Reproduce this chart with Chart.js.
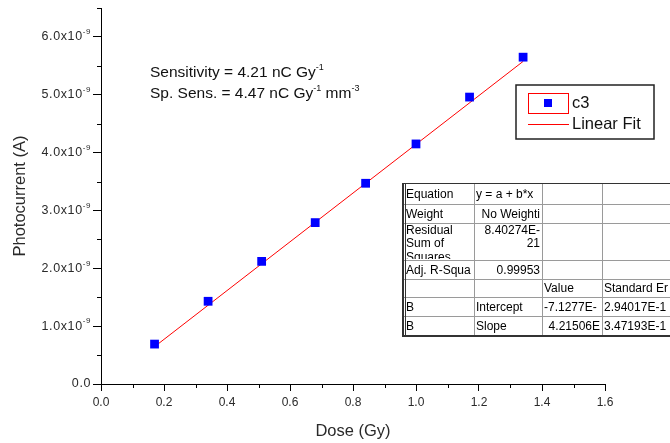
<!DOCTYPE html>
<html>
<head>
<meta charset="utf-8">
<script src="https://cdn.jsdelivr.net/npm/chart.js@4.4.1/dist/chart.umd.min.js"></script>
<style>
  html, body { margin: 0; padding: 0; background: #fff; }
</style>
</head>
<body>
<canvas id="grafico-dosis" width="670" height="443"></canvas>
<script>
// Dosis (Gy) y fotocorriente medida (en unidades de 1e-9 A)
const dosis = [0.17, 0.34, 0.51, 0.68, 0.84, 1.00, 1.17, 1.34];
const fotocorriente = [0.69, 1.43, 2.12, 2.79, 3.47, 4.15, 4.96, 5.65];

// Parámetros del ajuste lineal y = a + b*x (a en 1e-9 A, b en 1e-9 A/Gy)
const intercepto = -0.071277;
const pendiente = 4.21506;

// Marcas de los ejes
const ticksX = [0, 0.2, 0.4, 0.6, 0.8, 1.0, 1.2, 1.4, 1.6];
const ticksY = [0, 1, 2, 3, 4, 5, 6];
const etiquetasY = ['0.0', '1.0x10', '2.0x10', '3.0x10', '4.0x10', '5.0x10', '6.0x10'];
const exponenteY = '-9';

const nombreSerie = 'c3';
const nombreAjuste = 'Linear Fit';

// Tabla de resultados del ajuste (filas x columnas)
const tablaFilas = [
  ['Equation', 'y = a + b*x', '', ''],
  ['Weight', 'No Weighti', '', ''],
  ['Residual\nSum of\nSquares', '8.40274E-\n21', '', ''],
  ['Adj. R-Squa', '0.99953', '', ''],
  ['', '', 'Value', 'Standard Er'],
  ['B', 'Intercept', '-7.1277E-', '2.94017E-1'],
  ['B', 'Slope', '4.21506E', '3.47193E-1']
];
// alineación de cada celda: l = izquierda, r = derecha
const tablaAlineacion = [
  ['l', 'l', 'l', 'l'],
  ['l', 'r', 'l', 'l'],
  ['l', 'r', 'l', 'l'],
  ['l', 'r', 'l', 'l'],
  ['l', 'l', 'l', 'l'],
  ['l', 'l', 'l', 'l'],
  ['l', 'l', 'r', 'l']
];
const tablaColumnas = [402, 474, 542, 602, 690];
const tablaRenglones = [183, 204, 223, 260, 279, 297, 316, 336];

const FUENTE = '"Liberation Sans", Arial, sans-serif';
const GRIS_TEXTO = '#2a2a2a';

// Texto con superíndices: partes = [[texto, esSuperindice], ...]
function dibujarConExponentes(ctx, partes, x, y, tam, tamExp, subida) {
  let cx = x;
  for (const [txt, sup] of partes) {
    ctx.font = (sup ? tamExp : tam) + 'px ' + FUENTE;
    ctx.fillText(txt, cx, sup ? y - subida : y);
    cx += ctx.measureText(txt).width;
  }
  return cx;
}

function anchoConExponentes(ctx, partes, tam, tamExp) {
  let w = 0;
  for (const [txt, sup] of partes) {
    ctx.font = (sup ? tamExp : tam) + 'px ' + FUENTE;
    w += ctx.measureText(txt).width;
  }
  return w;
}

// Marcas menores a mitad de camino entre las mayores
const marcasMenores = {
  id: 'marcasMenores',
  afterDatasetsDraw(chart) {
    const ctx = chart.ctx;
    const sx = chart.scales.x, sy = chart.scales.y;
    ctx.save();
    ctx.strokeStyle = '#000';
    ctx.lineWidth = 1;
    ctx.beginPath();
    for (let i = 0; i < ticksX.length - 1; i++) {
      const px = Math.round(sx.getPixelForValue((ticksX[i] + ticksX[i + 1]) / 2)) + 0.5;
      ctx.moveTo(px, sy.bottom);
      ctx.lineTo(px, sy.bottom + 4);
    }
    for (let i = 0; i < ticksY.length; i++) {
      const v = ticksY[i] + 0.5;
      if (v > sy.max) break;
      const py = Math.round(sy.getPixelForValue(v)) + 0.5;
      ctx.moveTo(sx.left, py);
      ctx.lineTo(sx.left - 4, py);
    }
    ctx.stroke();
    ctx.restore();
  }
};

// Etiquetas del eje Y con exponente
const etiquetasEjeY = {
  id: 'etiquetasEjeY',
  afterDraw(chart) {
    const ctx = chart.ctx;
    const sy = chart.scales.y;
    ctx.save();
    ctx.fillStyle = GRIS_TEXTO;
    ctx.textBaseline = 'middle';
    ctx.textAlign = 'left';
    ctx.letterSpacing = '0.6px';
    ticksY.forEach((v, i) => {
      const py = sy.getPixelForValue(v);
      const partes = v === 0 ? [[etiquetasY[i], false]] : [[etiquetasY[i], false], [exponenteY, true]];
      const w = anchoConExponentes(ctx, partes, 12.5, 8);
      dibujarConExponentes(ctx, partes, 91 - w, py, 12.5, 8, 5);
    });
    ctx.restore();
  }
};

// Texto de sensibilidad, leyenda y tabla
const anotaciones = {
  id: 'anotaciones',
  afterDraw(chart) {
    const ctx = chart.ctx;
    ctx.save();
    ctx.fillStyle = '#111';
    ctx.textBaseline = 'alphabetic';
    ctx.textAlign = 'left';
    dibujarConExponentes(ctx, [['Sensitivity = 4.21 nC Gy', false], ['-1', true]], 150, 77, 15.5, 9, 7);
    dibujarConExponentes(ctx, [['Sp. Sens. = 4.47 nC Gy', false], ['-1', true], [' mm', false], ['-3', true]], 150, 98, 15.5, 9, 7);

    // leyenda
    const ds = chart.data.datasets;
    ctx.fillStyle = '#fff';
    ctx.fillRect(516, 85, 138, 54);
    ctx.strokeStyle = '#222';
    ctx.lineWidth = 1.5;
    ctx.strokeRect(516, 85, 138, 54);
    ctx.strokeStyle = '#ff0000';
    ctx.lineWidth = 1;
    ctx.strokeRect(528.5, 93.5, 40, 20);
    ctx.fillStyle = ds[0].backgroundColor;
    ctx.fillRect(544, 99, 8, 8);
    ctx.strokeStyle = ds[1].borderColor;
    ctx.beginPath();
    ctx.moveTo(528, 124.5);
    ctx.lineTo(569, 124.5);
    ctx.stroke();
    ctx.fillStyle = '#111';
    ctx.font = '16.5px ' + FUENTE;
    ctx.textBaseline = 'middle';
    ctx.fillText(ds[0].label, 572, 103);
    ctx.fillText(ds[1].label, 572, 124);

    // tabla del ajuste
    const x0 = tablaColumnas[0], x1 = tablaColumnas[tablaColumnas.length - 1];
    const y0 = tablaRenglones[0], y1 = tablaRenglones[tablaRenglones.length - 1];
    ctx.fillStyle = '#fff';
    ctx.fillRect(x0, y0, x1 - x0, y1 - y0);
    ctx.strokeStyle = '#9a9a9a';
    ctx.lineWidth = 1;
    ctx.beginPath();
    tablaColumnas.slice(1, -1).forEach(cx => { ctx.moveTo(cx + 0.5, y0); ctx.lineTo(cx + 0.5, y1); });
    tablaRenglones.slice(1, -1).forEach(ry => { ctx.moveTo(x0, ry + 0.5); ctx.lineTo(x1, ry + 0.5); });
    ctx.stroke();
    ctx.strokeStyle = '#333';
    ctx.beginPath();
    ctx.moveTo(x0, y0 + 0.5); ctx.lineTo(x1, y0 + 0.5);
    ctx.stroke();
    ctx.lineWidth = 2;
    ctx.beginPath();
    ctx.moveTo(x0 + 1, y0); ctx.lineTo(x0 + 1, y1);
    ctx.moveTo(x0, y1); ctx.lineTo(x1, y1);
    ctx.stroke();
    ctx.lineWidth = 1;
    ctx.beginPath();
    ctx.moveTo(x0 + 3.5, y0); ctx.lineTo(x0 + 3.5, y1);
    ctx.stroke();

    ctx.font = '12px ' + FUENTE;
    ctx.fillStyle = '#000';
    ctx.textBaseline = 'middle';
    tablaFilas.forEach((fila, r) => {
      const top = tablaRenglones[r], bot = tablaRenglones[r + 1];
      fila.forEach((celda, c) => {
        if (!celda) return;
        const left = tablaColumnas[c], right = tablaColumnas[c + 1];
        ctx.save();
        ctx.beginPath();
        ctx.rect(left + 1, top + 1, right - left - 2, bot - top - 2);
        ctx.clip();
        const lineas = celda.split('\n');
        const alto = bot - top;
        lineas.forEach((ln, k) => {
          const cy = lineas.length === 1 ? top + alto / 2 + 1 : top + 7.5 + k * 13.5;
          if (tablaAlineacion[r][c] === 'r') {
            ctx.textAlign = 'right';
            ctx.fillText(ln, right - 2, cy);
          } else {
            ctx.textAlign = 'left';
            ctx.fillText(ln, left + (c === 0 ? 4 : 2), cy);
          }
        });
        ctx.restore();
      });
    });
    ctx.restore();
  }
};

const puntos = dosis.map((d, i) => ({ x: d, y: fotocorriente[i] }));
const xIni = dosis[0], xFin = dosis[dosis.length - 1];
const lineaAjuste = [
  { x: xIni, y: intercepto + pendiente * xIni },
  { x: xFin, y: intercepto + pendiente * xFin }
];

new Chart(document.getElementById('grafico-dosis').getContext('2d'), {
  type: 'scatter',
  data: {
    datasets: [
      {
        label: nombreSerie,
        data: puntos,
        backgroundColor: '#0000ff',
        borderColor: '#0000ff',
        pointStyle: 'rect',
        pointRadius: 6.2,
        pointBorderWidth: 0
      },
      {
        label: nombreAjuste,
        data: lineaAjuste,
        showLine: true,
        borderColor: '#ff0000',
        backgroundColor: '#ff0000',
        borderWidth: 1,
        pointRadius: 0
      }
    ]
  },
  options: {
    responsive: false,
    animation: false,
    layout: { padding: { top: 8, right: 65, bottom: 0, left: 0 } },
    plugins: { legend: { display: false }, tooltip: { enabled: false } },
    scales: {
      x: {
        type: 'linear',
        min: 0,
        max: 1.6,
        afterBuildTicks: (s) => { s.ticks = ticksX.map(v => ({ value: v })); },
        afterFit: (s) => { s.height = 59; },
        grid: { display: true, drawOnChartArea: false, drawTicks: true, tickLength: 7, color: '#000' },
        border: { display: true, color: '#000', width: 1 },
        ticks: {
          color: GRIS_TEXTO,
          font: { family: FUENTE, size: 12 },
          padding: 4,
          maxRotation: 0,
          autoSkip: false,
          callback: (v) => Number(v).toFixed(1)
        },
        title: {
          display: true,
          text: 'Dose (Gy)',
          color: GRIS_TEXTO,
          font: { family: FUENTE, size: 16.5 },
          padding: { top: 0, bottom: 2 }
        }
      },
      y: {
        type: 'linear',
        min: 0,
        max: 6.5,
        afterBuildTicks: (s) => { s.ticks = ticksY.map(v => ({ value: v })); },
        afterFit: (s) => { s.width = 101; },
        grid: { display: true, drawOnChartArea: false, drawTicks: true, tickLength: 8, color: '#000' },
        border: { display: true, color: '#000', width: 1 },
        ticks: { display: false },
        title: {
          display: true,
          text: 'Photocurrent (A)',
          color: GRIS_TEXTO,
          font: { family: FUENTE, size: 16.5 },
          padding: { top: 11, bottom: 0 }
        }
      }
    }
  },
  plugins: [marcasMenores, etiquetasEjeY, anotaciones]
});
</script>
</body>
</html>
